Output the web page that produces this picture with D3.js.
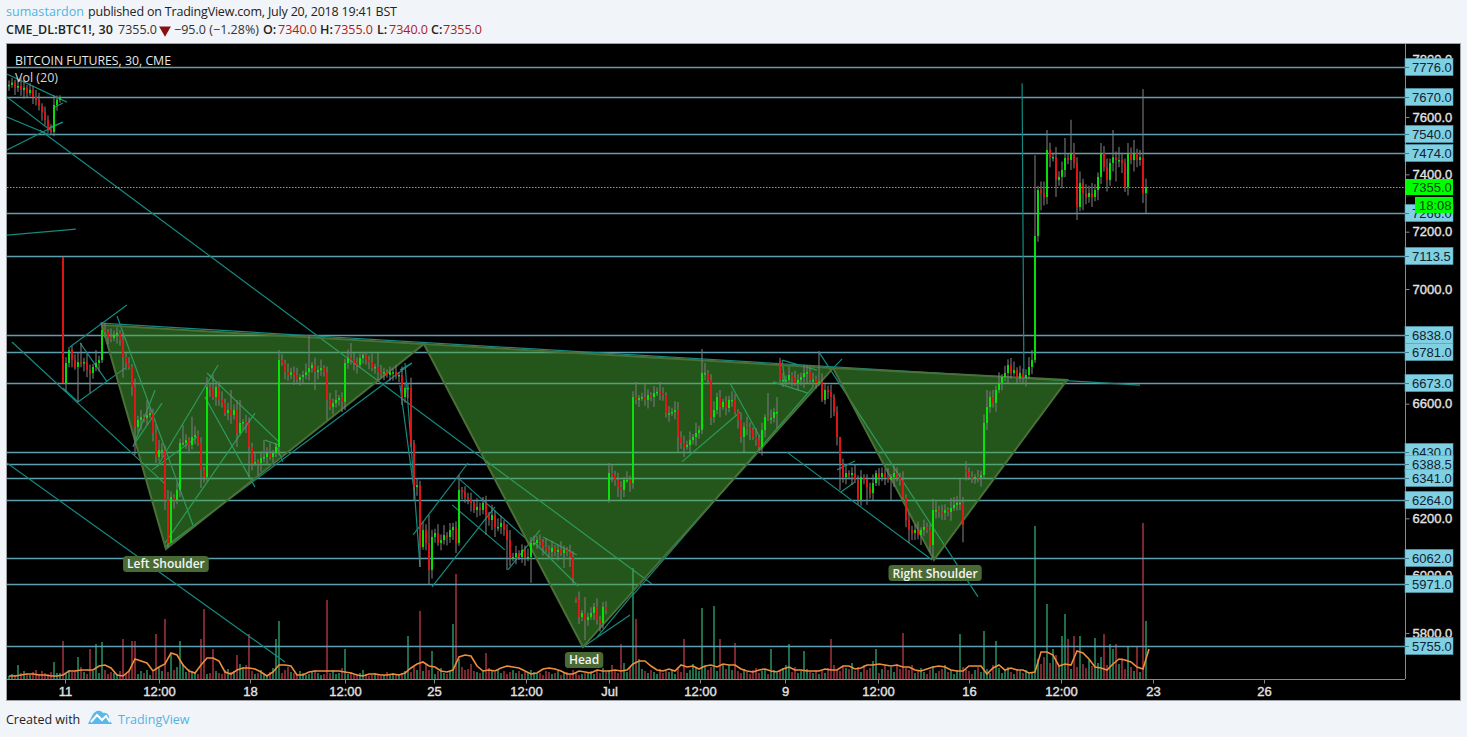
<!DOCTYPE html>
<html><head><meta charset="utf-8">
<script src="https://cdn.jsdelivr.net/npm/d3@7/dist/d3.min.js"></script>
<style>html,body{margin:0;padding:0;background:#f1f4f8;overflow:hidden}svg{display:block}</style>
</head><body><svg id="c" width="1467" height="737"></svg>
<script>
// ---------- data ----------
const closes = [
7712,7720,7702,7708,7694,7702,7684,7694,7670,7660,7638,7617,7590,7555,7548,7642,7660,7666,6672,
6742,6787,6752,6728,6745,6742,6745,6717,6707,6728,6742,6752,6857,6850,6832,6829,6840,6847,6822,6763,
6742,6728,6658,6519,6543,6553,6550,6560,6567,6498,6414,6438,6438,6264,6114,6274,6264,6299,6463,6463,
6473,6456,6484,6491,6463,6369,6344,6658,6648,6623,6658,6613,6602,6567,6578,6560,6578,6498,6533,6536,
6533,6449,6393,6396,6393,6410,6414,6428,6414,6428,6449,6752,6742,6710,6700,6710,6700,6683,6693,6700,
6710,6724,6735,6710,6717,6724,6710,6613,6588,6602,6613,6620,6606,6742,6759,6752,6742,6735,6759,6770,
6752,6745,6724,6728,6710,6707,6710,6700,6710,6710,6700,6700,6623,6655,6655,6463,6309,6316,6100,6159,
6114,6020,6135,6149,6114,6124,6142,6135,6159,6170,6114,6299,6292,6274,6264,6254,6229,6240,6229,6254,
6212,6194,6212,6170,6170,6184,6159,6124,6065,6065,6079,6065,6090,6065,6065,6114,6114,6124,6118,6100,
6090,6083,6097,6083,6090,6079,6090,6083,6065,5992,5915,5856,5870,5845,5856,5870,5891,5845,5835,5891,
5880,6358,6351,6334,6309,6299,6334,6334,6323,6623,6613,6620,6623,6613,6630,6623,6637,6641,6637,6630,
6567,6567,6571,6578,6484,6463,6449,6456,6473,6484,6498,6508,6707,6707,6683,6553,6578,6623,6588,6606,
6585,6613,6613,6571,6543,6484,6519,6515,6508,6484,6473,6449,6508,6553,6550,6550,6571,6571,6683,6683,
6683,6700,6690,6672,6683,6693,6707,6710,6683,6683,6672,6676,6613,6648,6641,6623,6571,6484,6393,6344,
6358,6351,6358,6334,6264,6344,6334,6309,6288,6323,6358,6344,6358,6341,6334,6344,6358,6344,6334,6274,
6194,6159,6149,6159,6142,6159,6170,6159,6107,6229,6229,6222,6219,6229,6222,6236,6247,6254,6254,6177,
6362,6344,6341,6344,6341,6351,6533,6588,6623,6602,6648,6672,6693,6707,6735,6707,6717,6690,6707,6690,
6700,6728,6752,7185,7345,7335,7321,7485,7460,7460,7380,7391,7415,7457,7450,7474,7440,7286,7370,7335,
7321,7335,7321,7345,7391,7474,7425,7380,7440,7460,7450,7450,7440,7356,7474,7450,7474,7450,7460,7335,7355];
const gapOpens = [[18,7110],[189,5926],[200,6264],[257,6750],[319,6369]];
const wickHighs = [[1,7736],[5,7729],[9,7694],[15,7677],[18,7112],[20,6798],[24,6812],[29,6787],[31,6885],[36,6867],
[46,6613],[50,6473],[58,6526],[61,6554],[68,6700],[74,6648],[77,6613],[85,6473],[90,6787],[100,6840],[114,6812],
[119,6780],[123,6777],[140,6212],[150,6351],[161,6247],[174,6135],[189,5922],[192,5926],[195,5905],[198,5908],
[200,6393],[209,6676],[212,6672],[223,6606],[229,6533],[231,6791],[253,6637],[256,6623],[270,6784],[266,6735],
[277,6449],[290,6376],[308,6268],[315,6274],[317,6337],[326,6648],[330,6710],[334,6759],[341,6787],[342,7467],
[346,7555],[352,7527],[354,7590],[364,7509],[368,7555],[373,7509],[375,7520],[378,7698]];
const wickLows = [[14,7537],[23,6606],[27,6637],[38,6690],[42,6421],[53,6097],[54,6205],[64,6306],[76,6449],[80,6344],
[83,6351],[102,6648],[106,6543],[112,6578],[131,6595],[135,6264],[137,6030],[140,5967],[149,6079],[159,6142],
[161,6159],[166,6020],[174,5975],[185,6027],[192,5776],[204,6264],[223,6431],[234,6526],[245,6431],[250,6438],
[256,6515],[265,6655],[271,6606],[274,6550],[277,6299],[283,6247],[286,6247],[294,6264],[300,6114],[301,6124],
[308,6062],[311,6194],[318,6117],[321,6323],[336,6672],[344,7275],[349,7321],[356,7241],[358,7275],[361,7286],
[369,7375],[372,7338],[379,7265]];
// ordinary wick lengths (price units) for bars not listed above
const wickUp = [
15,25,10,20,30,15,10,25,15,20,25,10,20,15,20,30,15,10,0,20,
25,15,20,35,10,15,30,20,10,25,15,20,25,10,30,15,20,10,25,15,
20,10,30,15,25,10,35,20,15,30,10,25,15,35,20,10,25,15,30,20,
10,25,30,15,20,10,35,15,25,10,20,30,15,25,10,20,35,15,10,25,
20,15,30,10,25,15,20,35,10,15,25,20,10,30,15,20,25,10,15,30,
20,10,25,15,30,10,20,25,15,35,10,20,15,30,10,25,20,15,10,25,
15,30,10,20,25,15,10,20,15,25,10,30,20,15,35,10,25,15,30,20,
10,25,15,30,20,35,10,25,15,20,30,10,20,15,25,10,30,15,20,25,
10,20,15,30,25,10,20,35,15,25,10,20,15,30,10,25,15,20,10,30,
15,25,10,20,30,15,10,25,20,15,30,10,25,15,20,10,30,15,25,20,
10,30,15,25,20,10,30,15,20,25,10,15,30,20,10,25,15,35,20,10,
25,15,30,10,20,25,15,30,10,20,15,25,35,10,20,30,15,25,10,20,
15,30,20,10,25,15,35,20,10,30,15,25,10,20,30,15,20,10,25,15,
30,10,25,20,15,30,10,20,25,15,10,30,20,15,25,10,20,35,15,25,
10,20,30,15,25,10,20,15,30,10,25,20,15,35,10,25,20,15,30,10,
25,15,20,30,10,25,15,20,10,30,15,25,20,10,35,15,25,10,20,30,
15,20,10,25,15,30,10,20,25,15,30,10,25,20,15,30,10,25,15,20,
35,10,25,15,30,40,20,25,15,35,20,30,45,15,25,35,20,40,15,30,
25,35,20,15,40,25,30,15,35,20,45,25,15,30,20,35,15,25,20,30];
const wickDown = [
20,10,25,15,20,30,15,10,25,20,15,30,20,10,25,15,20,10,0,30,
15,25,10,20,15,30,25,10,20,15,30,10,20,25,15,10,30,20,15,25,
10,30,15,20,35,15,25,10,30,20,15,25,35,20,10,30,15,25,10,20,
30,15,25,10,35,20,15,25,10,30,20,15,10,25,30,15,20,10,25,35,
15,25,10,20,30,15,25,10,20,15,30,10,25,20,15,35,10,20,25,15,
30,15,10,25,20,15,30,10,25,15,20,35,10,20,15,25,30,10,20,15,
25,10,20,30,15,25,10,20,30,15,25,10,20,35,15,25,30,20,10,25,
15,30,20,10,25,15,30,20,35,15,10,25,20,15,30,10,25,20,15,30,
20,10,35,15,25,20,10,30,15,25,10,20,30,15,25,10,20,15,30,10,
25,20,15,30,10,25,15,35,20,10,25,15,30,20,10,25,15,30,20,15,
10,25,20,35,15,25,10,30,20,15,25,10,20,30,15,35,10,25,20,15,
30,10,25,15,20,35,10,25,15,30,20,15,25,10,30,20,15,35,10,25,
15,25,10,30,20,15,25,35,10,20,15,30,25,10,20,15,30,10,25,20,
15,30,10,25,20,10,35,15,25,20,10,30,15,25,20,15,30,10,20,25,
15,35,10,25,20,15,30,20,25,10,30,15,25,10,20,35,15,20,10,25,
30,10,25,15,35,20,10,25,15,30,20,10,25,15,30,10,20,25,15,30,
10,25,20,15,30,10,25,20,15,30,10,25,15,35,20,10,25,15,20,30,
15,25,10,20,40,30,25,35,15,30,20,40,25,15,35,20,30,15,40,25,
20,30,15,35,25,15,40,20,30,15,25,35,20,30,15,40,25,20,35,30];
const volumes = [
3,5,4,14,6,8,5,4,7,9,5,8,6,5,7,9,6,6,8,5,
9,7,8,6,12,7,5,10,8,12,6,14,9,5,7,6,5,8,12,6,
9,14,7,5,8,6,9,4,7,6,11,8,10,7,16,9,12,18,15,7,
10,8,6,5,7,9,5,6,7,8,6,5,9,10,7,8,24,15,12,14,
7,8,5,6,9,5,4,7,11,6,8,6,9,12,7,6,5,8,6,4,
5,7,9,6,4,5,8,6,9,5,6,11,6,5,7,4,5,6,9,5,
3,4,6,5,3,4,7,5,6,4,5,6,8,10,7,12,9,14,8,15,
9,6,5,8,11,6,5,7,9,14,20,12,9,10,15,8,7,6,9,8,
11,9,7,10,6,8,5,7,9,6,8,5,7,6,9,7,5,6,4,8,
7,5,6,8,4,6,7,5,9,6,4,5,6,7,8,5,9,6,11,7,
9,14,8,6,10,16,7,12,9,14,20,10,8,6,9,7,5,10,6,8,
7,9,5,12,7,8,6,9,15,11,8,6,13,9,12,17,8,11,15,10,
14,9,12,8,6,10,7,5,9,11,6,8,10,5,7,9,6,8,11,14,
9,7,12,6,8,5,10,7,6,9,5,8,6,11,7,14,9,8,13,11,
10,16,8,12,7,14,9,11,18,13,6,10,14,9,12,7,15,10,8,11,
9,14,6,8,11,7,5,9,13,6,8,10,14,7,9,5,8,6,12,10,
8,5,9,12,7,15,10,6,14,8,11,6,9,12,7,5,10,8,6,9,
7,6,14,20,15,22,12,16,9,24,13,18,26,14,10,17,12,20,15,11,
19,13,9,16,22,11,14,24,18,9,15,21,10,16,12,8,14,7,6,5];
const volumeSpikes = [[18,38],[15,17],[23,22],[27,30],[29,35],[31,37],[38,40],[41,38],[42,38],[49,45],[52,60],[54,25],
[57,38],[64,40],[65,70],[68,30],[80,45],[89,40],[90,58],[106,79],[112,30],[133,43],[137,68],[141,28],[148,55],[149,105],
[159,26],[204,35],[208,111],[209,60],[225,40],[231,71],[235,73],[237,40],[242,36],[254,30],[260,35],[265,28],[274,40],
[289,30],[298,46],[317,45],[325,48],[329,38],[342,153],[346,75],[348,30],[351,43],[352,65],[353,40],[355,43],[357,43],
[362,41],[365,45],[367,35],[368,30],[369,35],[373,33],[376,32],[378,156],[379,58]];
const volumeMA = [3,3,4,5,5,4,4,3,3,4,8,8,9,9,9,13,14,11,4,3,8,20,18,16,8,12,15,26,24,14,8,6,14,21,21,18,7,5,9,11,11,10,7,3,7,14,14,13,4,4,7,8,8,8,8,8,7,6,4,3,5,5,4,4,5,4,6,11,15,17,13,12,8,7,9,22,24,23,13,8,9,8,11,13,12,11,8,5,6,10,11,10,8,5,5,8,7,6,9,8,8,9,8,9,15,18,18,13,9,8,10,8,14,12,13,10,13,14,12,15,14,14,10,8,7,9,10,8,7,10,12,9,9,8,8,8,10,9,9,13,13,10,11,14,14,15,14,13,14,12,12,9,8,10,12,13,12,9,8,8,13,13,13,5,11,14,9,11,9,9,6,7,27,27,24,13,15,14,28,26,20,12,11,9,15,20,19,17,12,10,30];
const levels = [7776,7670,7540,7474,7266,7113.5,6838,6781,6673,6430,6388.5,6341,6264,6062,5971,5755];
const priceTicks = [7800,7600,7400,7200,7000,6800,6600,6400,6200,6000,5800];
const timeTickBars = [18.67,50,80.33,112,141.67,172.33,200,230.33,258.67,289.67,320,350.67,381.33,418.33];
const timeTickLabels = ["11","12:00","18","12:00","25","12:00","Jul","12:00","9","12:00","16","12:00","23","26"];
const trendlines = [
[-0.7,7750,19.3,7652],[-0.7,7670,13.7,7555],[-0.7,7600,13.7,7537],[13.3,7562,18,7582],[15.3,7635,18,7649],[-0.7,7485,17.7,7582],
[-0.7,7188,22.3,7209],[10.3,7555,214.3,5971],[1,6815,52,6320],[36,6906,61.3,6177],[-0.7,6393,92,5699],[20.3,6798,39.3,6944],
[23,6606,38.7,6724],[23.7,6812,32.7,6676],[18,6655,23,6606],[41.3,6449,48.7,6648],[42,6463,51,6602],[47.7,6369,62.7,6484],
[52,6114,82,6567],[49.3,6379,69.7,6735],[66,6707,90.3,6463],[65.3,6623,82,6309],[85.3,6473,90,6456],[88.7,6463,91.3,6397],
[52,6100,134.3,6742],[30.3,6881,377,6665],[132,6742,137,6030],[130.3,6665,135,6299],[130.3,6717,134.3,6742],[134.7,6142,153,6393],
[141,5961,162,6240],[149.7,6341,172,6132],[147.7,6247,165.3,6090],[166.3,6020,177,6159],[175.3,6114,189.7,5964],[178,6135,189.3,6072],
[191.3,5751,207,5863],[196,5786,208.3,5940],[208,5933,268,6658],[224.3,6397,243.7,6571],[240.3,6672,250.3,6484],[259.3,6431,307.7,6055],
[257.7,6752,269.3,6717],[254.7,6676,266.3,6637],[257.7,6752,258.7,6672],[270,6780,323,5926],[274.7,6724,277.7,6756],[276,6369,282,6400],
[277.3,6292,282,6327],[337.7,7718,338.3,6693]];
const triangles = [
[[31,6874],[52.3,6093],[138.3,6808]],
[[138.3,6808],[191.3,5751],[274.7,6724]],
[[274.7,6724],[308.3,6055],[352.7,6683]]];
const notes = [["Left Shoulder",52.3,6041],["Head",191.7,5706],["Right Shoulder",308.7,6009]];
const lastPrice = 7355;
const countdown = "18:08";

// ---------- scales ----------
const svg = d3.select("#c");
const L=7, R=1405, T=44, B=679;
const x = d3.scaleLinear().domain([0,100]).range([9,309]);
const y = d3.scaleLinear().domain([5800,7800]).range([633,59.67]);
const yVol = d3.scaleLinear().domain([0,160]).range([B,B-160]);
const fmt = d3.format(".1f");
const sans = "'Open Sans','Noto Sans',sans-serif", arial = "'Liberation Sans',Arial,sans-serif";

// ---------- frame ----------
svg.append("rect").attr("x",6.5).attr("y",43.5).attr("width",1454).attr("height",657).attr("fill","#000").attr("stroke","#a0a3a6");
svg.append("defs").append("clipPath").attr("id","plot").append("rect").attr("x",L).attr("y",T).attr("width",R-L).attr("height",B-T);
const plot = svg.append("g").attr("clip-path","url(#plot)");

// ---------- derived candles ----------
const gapMap = new Map(gapOpens), hiMap = new Map(wickHighs), loMap = new Map(wickLows), spikeMap = new Map(volumeSpikes);
const candles = closes.map((c,i)=>{
  const o = gapMap.has(i) ? gapMap.get(i) : (i?closes[i-1]:c);
  return {i,o,c,h:Math.max(o,c,hiMap.get(i)??Math.max(o,c)+wickUp[i]),l:Math.min(o,c,loMap.get(i)??Math.min(o,c)-wickDown[i]),
          v:spikeMap.get(i)??volumes[i]};
});

// volume
plot.append("g").selectAll("rect").data(candles).join("rect")
  .attr("x",d=>x(d.i)-1).attr("width",2).attr("y",d=>yVol(d.v)).attr("height",d=>B-yVol(d.v))
  .attr("fill",d=>d.c>=d.o?"#1e6e4c":"#7c2630");
plot.append("path").datum(volumeMA).attr("fill","none").attr("stroke","#ee8e3e").attr("stroke-width",1.6)
  .attr("d",d3.line().x((d,i)=>x(i*2)).y(d=>yVol(d)));

// levels
plot.append("g").selectAll("line").data(levels).join("line")
  .attr("x1",L).attr("x2",R).attr("y1",d=>Math.round(y(d))+.5).attr("y2",d=>Math.round(y(d))+.5)
  .attr("stroke","#5f9eae").attr("stroke-width",1.4);

// trendlines
plot.append("g").selectAll("line").data(trendlines).join("line")
  .attr("x1",d=>x(d[0])).attr("y1",d=>y(d[1])).attr("x2",d=>x(d[2])).attr("y2",d=>y(d[3]))
  .attr("stroke","#148a80").attr("stroke-width",1.2);

// triangles
plot.append("g").selectAll("path").data(triangles).join("path")
  .attr("d",t=>d3.line().x(p=>x(p[0])).y(p=>y(p[1]))(t)+"Z")
  .attr("fill","rgba(72,170,54,.5)").attr("stroke","#4a7038").attr("stroke-width",2);

// candles
const gc = plot.append("g");
gc.selectAll("line").data(candles).join("line")
  .attr("x1",d=>x(d.i)).attr("x2",d=>x(d.i)).attr("y1",d=>y(d.h)).attr("y2",d=>y(d.l))
  .attr("stroke","#7a7a7a").attr("stroke-width",1.1);
gc.selectAll("rect").data(candles).join("rect")
  .attr("x",d=>x(d.i)-.9).attr("width",1.8)
  .attr("y",d=>y(Math.max(d.o,d.c))).attr("height",d=>Math.max(1.5,Math.abs(y(d.o)-y(d.c))))
  .attr("fill",d=>d.c>=d.o?"#00f000":"#f01010");

// last price line
plot.append("line").attr("x1",L).attr("x2",R).attr("y1",Math.round(y(lastPrice))+.5).attr("y2",Math.round(y(lastPrice))+.5)
  .attr("stroke","#00ff00").attr("stroke-dasharray","1.5 1.5");

// axes
const axY = svg.append("g").attr("transform",`translate(${R+.5},0)`)
  .call(d3.axisRight(y).tickValues(priceTicks).tickSize(4).tickPadding(3).tickFormat(fmt));
axY.select(".domain").attr("d",`M0,${T}V${B}`).attr("stroke","#8a8a8a");
const axX = svg.append("g").attr("transform",`translate(0,${B+.5})`)
  .call(d3.axisBottom(x).tickValues(timeTickBars).tickSize(4).tickPadding(3).tickFormat((d,i)=>timeTickLabels[i]));
axX.select(".domain").attr("d",`M${L},0H${R}`).attr("stroke","#8a8a8a");
svg.selectAll(".tick line").attr("stroke","#8a8a8a");
svg.selectAll(".tick text").attr("fill","#e4e4e4").attr("font-family",arial).attr("font-size",13).attr("stroke","#e4e4e4").attr("stroke-width",.35);

// level tags
const tags = svg.append("g").selectAll("g").data(levels).join("g").attr("transform",d=>`translate(${R},${Math.round(y(d))})`);
tags.append("rect").attr("x",0).attr("y",-8.5).attr("width",48).attr("height",17).attr("fill","#7fd0e2").attr("stroke","#5aa6b8").attr("stroke-width",.6);
tags.append("line").attr("x1",0).attr("x2",4).attr("y1",.5).attr("y2",.5).attr("stroke","#4c7c88");
tags.append("text").attr("x",7).attr("y",4.5).attr("font-family",arial).attr("font-size",13).attr("fill","#123").text(d=>fmt(d));

// last price tag and countdown
const yl = Math.round(y(lastPrice));
svg.append("rect").attr("x",R).attr("y",yl-8).attr("width",48).attr("height",16).attr("fill","#00ff00");
svg.append("text").attr("x",R+7).attr("y",yl+5).attr("font-family",arial).attr("font-size",13).attr("fill","#0a3a14").text(fmt(lastPrice));
svg.append("rect").attr("x",R+10).attr("y",yl+10).attr("width",38).attr("height",16).attr("fill","#00ff00");
svg.append("text").attr("x",R+14).attr("y",yl+23).attr("font-family",arial).attr("font-size",13).attr("fill","#0a3a14").text(countdown);

// annotations
const ng = svg.append("g").selectAll("g").data(notes).join("g").attr("transform",d=>`translate(${x(d[1])},${y(d[2])})`);
ng.append("text").attr("text-anchor","middle").attr("y",4.5).attr("font-family",sans).attr("font-size",12).attr("font-weight",600).attr("fill","#f4f4f4").text(d=>d[0])
  .each(function(){ const b=this.getBBox(); d3.select(this.parentNode).insert("rect","text").attr("x",b.x-4).attr("y",-8).attr("width",b.width+8).attr("height",16).attr("rx",3.5).attr("fill","#4a6a35"); });

// chart titles
svg.append("text").attr("x",15).attr("y",65).attr("font-family",sans).attr("font-size",12.3).attr("fill","#e8e8e8").text("BITCOIN FUTURES, 30, CME");
svg.append("text").attr("x",15).attr("y",82).attr("font-family",sans).attr("font-size",12.5).attr("fill","#d8d8d8").text("Vol (20)");

// header
function t(xp,yp,s,fill,w,len){ const e=svg.append("text").attr("x",xp).attr("y",yp).attr("font-family",sans).attr("font-size",12.5).attr("font-weight",w||400).attr("fill",fill).text(s); if(len) e.attr("textLength",len).attr("lengthAdjust","spacing"); return e; }
t(6,16,"sumastardon","#4fb4e4",400,78);
t(88,16,"published on TradingView.com, July 20, 2018 19:41 BST","#222",400,309);
t(6,34,"CME_DL:BTC1!, 30","#222",600,107);
t(118,34,"7355.0","#333");
svg.append("path").attr("d",d3.symbol(d3.symbolTriangle,60)()).attr("transform","translate(165,30) rotate(180)").attr("fill","#8a1010");
t(174,34,"−95.0 (−1.28%)","#333",400,85);
[["O:",263,"7340.0",278],["H:",320,"7355.0",334],["L:",377,"7340.0",389],["C:",431,"7355.0",443]].forEach(a=>{ t(a[1],34,a[0],"#222",600); t(a[3],34,a[2],"#b01a1a"); });

// footer
t(6,724,"Created with","#222");
t(118,724,"TradingView","#4fb4e4");
svg.append("path").attr("d","M88,724 L92,716 C94,711 100,709 103,713 C107,712 110,716 109,719 L112,724 Z").attr("fill","#5bb8ea");
svg.append("path").attr("d","M91,722 L97,715 L102,720 L106,716 L110,722").attr("fill","none").attr("stroke","#fff").attr("stroke-width",2);
</script></body></html>
